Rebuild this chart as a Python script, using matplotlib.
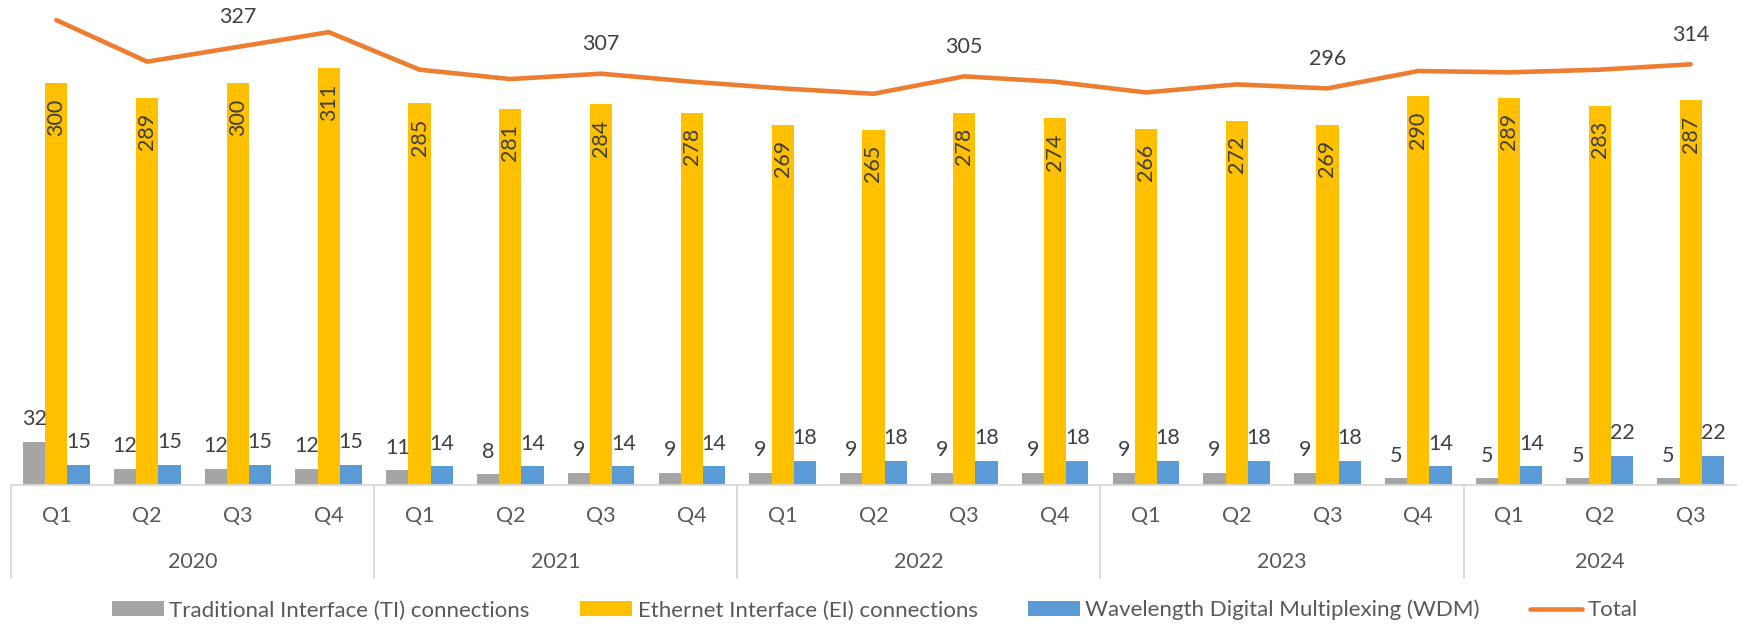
# Quarterly connections by interface type, 2020 Q1 - 2024 Q3.
# Grouped bars per quarter plus the total as a line.

import numpy as np
import matplotlib as mpl
mpl.use("Agg")
import matplotlib.pyplot as plt
from matplotlib.patches import Patch
from matplotlib.lines import Line2D
from matplotlib.transforms import blended_transform_factory

# Data
years = ["2020", "2021", "2022", "2023", "2024"]
quarters_per_year = [4, 4, 4, 4, 3]
quarters = ["Q1", "Q2", "Q3", "Q4"] * 4 + ["Q1", "Q2", "Q3"]

ti = [32, 12, 12, 12, 11, 8, 9, 9, 9, 9, 9, 9, 9, 9, 9, 5, 5, 5, 5]
ei = [300, 289, 300, 311, 285, 281, 284, 278, 269, 265, 278, 274,
      266, 272, 269, 290, 289, 283, 287]
wdm = [15, 15, 15, 15, 14, 14, 14, 14, 18, 18, 18, 18, 18, 18, 18, 14, 14, 22, 22]
total = [347, 316, 327, 338, 310, 303, 307, 301, 296, 292, 305, 301,
         293, 299, 296, 309, 308, 310, 314]
# only these points of the total carry a label
total_labelled = [2, 6, 10, 14, 18]

series_names = ["Traditional Interface (TI) connections",
                "Ethernet Interface (EI) connections",
                "Wavelength Digital Multiplexing (WDM)",
                "Total"]

C_TI = "#A5A5A5"
C_EI = "#FFC000"
C_WDM = "#5B9BD5"
C_TOT = "#ED7D31"
TXT = "#404040"
AXTXT = "#595959"
GRID = "#D9D9D9"

plt.rcParams['font.family'] = ['Lato', 'DejaVu Sans']
FS = 15.5
LFS = 16


def main():
	fig = plt.figure(figsize=(17.39, 6.27), dpi=100)
	ax = fig.add_axes([0.0063, 0.2265, 0.9920, 0.7735])

	x = np.arange(len(quarters))
	w = 0.245

	ax.bar(x - w, ti, w, color=C_TI)
	ax.bar(x, ei, w, color=C_EI)
	ax.bar(x + w, wdm, w, color=C_WDM)
	ax.plot(x, total, color=C_TOT, lw=3.3, solid_capstyle='round',
	        solid_joinstyle='round', zorder=3)

	# Data labels
	for i in range(len(x)):
		ax.annotate(str(ti[i]), (x[i] - w, ti[i]), xytext=(0, 12),
		            textcoords='offset points', ha='center', va='baseline',
		            fontsize=FS, color=TXT)
		ax.annotate(str(wdm[i]), (x[i] + w, wdm[i]), xytext=(0, 12),
		            textcoords='offset points', ha='center', va='baseline',
		            fontsize=FS, color=TXT)
		ax.annotate(str(ei[i]), (x[i], ei[i]), xytext=(0, -11),
		            textcoords='offset points', ha='center', va='top',
		            rotation=90, fontsize=FS, color=TXT)
	for i in total_labelled:
		ax.annotate(str(total[i]), (x[i], total[i]), xytext=(0, 17),
		            textcoords='offset points', ha='center', va='baseline',
		            fontsize=FS, color=TXT)

	ax.set_xlim(-0.5, len(x) - 0.5)
	ax.set_ylim(0, 362)
	ax.set_yticks([])
	ax.set_xticks([])
	for s in ["top", "left", "right"]:
		ax.spines[s].set_visible(False)
	ax.spines["bottom"].set_color(GRID)
	ax.spines["bottom"].set_linewidth(1.3)

	# Two-level category axis (quarter / year)
	tr = blended_transform_factory(ax.transData, ax.transAxes)
	for i, q in enumerate(quarters):
		ax.text(x[i], -0.064, q, transform=tr, ha='center', va='center',
		        fontsize=FS, color=AXTXT)
	start = 0
	for y, n in zip(years, quarters_per_year):
		ax.text(start + (n - 1) / 2, -0.159, y, transform=tr, ha='center',
		        va='center', fontsize=FS, color=AXTXT)
		ax.plot([start - 0.5, start - 0.5], [0, -0.192], transform=tr,
		        color=GRID, lw=1.3, clip_on=False)
		start += n

	handles = [Patch(facecolor=C_TI), Patch(facecolor=C_EI),
	           Patch(facecolor=C_WDM),
	           Line2D([], [], color=C_TOT, lw=3.3, solid_capstyle='round')]
	fig.legend(handles, series_names, loc='center', bbox_to_anchor=(0.503, 0.027),
	           ncol=4, frameon=False, fontsize=LFS, labelcolor=AXTXT,
	           handlelength=2.35, handleheight=0.6, handletextpad=0.25,
	           columnspacing=2.25)

	fig.savefig("out.png", dpi=100)


if __name__ == "__main__":
	main()
